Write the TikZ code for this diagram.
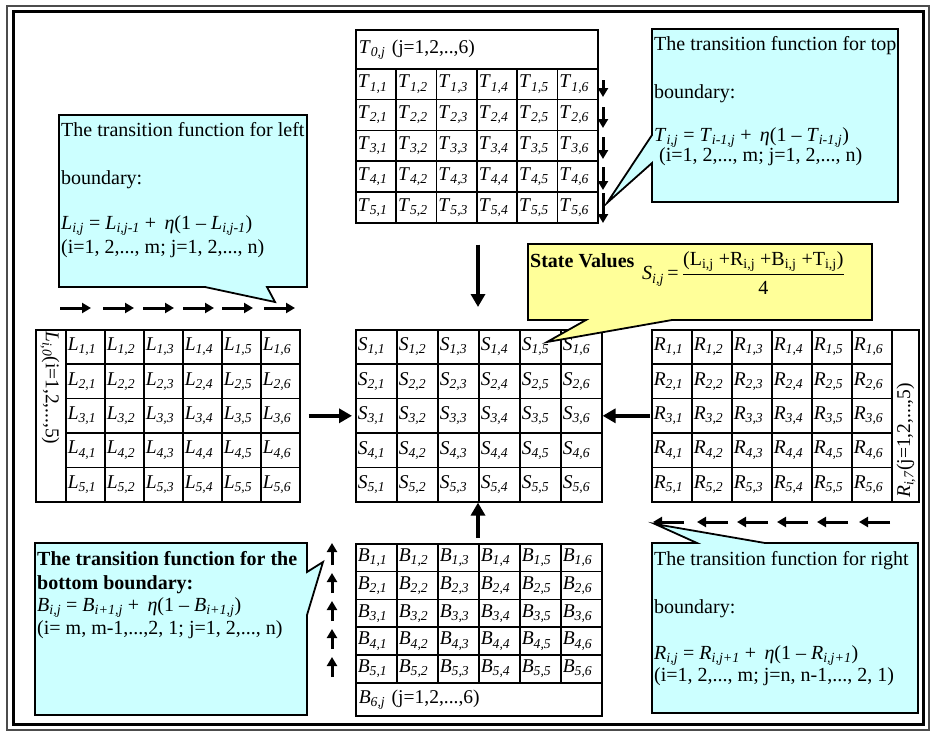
\documentclass[tikz,border=0pt]{standalone}
\usepackage{amsmath}
\usepackage{fontspec}
\setmainfont{Liberation Serif}
\usetikzlibrary{arrows.meta}
\definecolor{callcyan}{HTML}{CCFFFF}
\definecolor{callyellow}{HTML}{FFFF99}
\newcommand{\sv}[2]{\textit{#1}\textsubscript{\textit{#2}}}
\newcommand{\cellfont}{\fontsize{19.5}{22}\selectfont}
\newcommand{\callfont}{\fontsize{20}{23}\selectfont}
\begin{document}
\begin{tikzpicture}[x=1pt,y=-1pt,
  gridbox/.style={draw, line width=1.6pt, anchor=north west, inner xsep=2pt, inner ysep=0pt, align=left, font=\cellfont},
  tcell/.style={gridbox, text width=36.33pt, minimum height=30.8pt},
  scell/.style={gridbox, text width=37pt, minimum height=34.4pt},
  lcell/.style={gridbox, text width=35pt, minimum height=34.4pt},
  rcell/.style={gridbox, text width=36pt, minimum height=34.4pt},
  bcell/.style={gridbox, text width=37pt, minimum height=27.8pt},
  callout/.style={draw, line width=1.8pt, line join=miter, fill=callcyan},
  svcallout/.style={draw, line width=1.8pt, line join=miter, fill=callyellow},
  calltext/.style={anchor=base west, inner sep=0pt, font=\callfont},
  smallarrow/.style={line width=3pt, -{Triangle[width=10pt,length=9pt]}},
  bigarrow/.style={line width=4.5pt, -{Triangle[width=14pt,length=13pt]}}]
\useasboundingbox (0,0) rectangle (936,736);
% frame
\draw[line width=2pt, black!70] (7,6) rectangle (929,730);
\draw[line width=3pt] (13,11.5) rectangle (923,724.5);

% ---- top grid T
\node[gridbox, text width=236pt, inner xsep=3pt, minimum height=39pt] (T0) at (355,29) {\sv{T}{0,j} (j=1,2,..,6)};
\foreach \i in {1,...,5}
  \foreach \j in {1,...,6}
    \node[tcell] (T\i\j) at ({355+(\j-1)*40.33},{68+(\i-1)*30.8}) {\sv{T}{\i,\j}};
% small down arrows
\draw[smallarrow] (603,80) -- (603,97);
\draw[smallarrow] (603,107) -- (603,128);
\draw[smallarrow] (603,137) -- (603,159);
\draw[smallarrow] (603,167) -- (603,190);
\draw[smallarrow] (603,193) -- (603,223);

% ---- state grid S
\foreach \i in {1,...,5}
  \foreach \j in {1,...,6}
    \node[scell] (S\i\j) at ({355+(\j-1)*41},{329+(\i-1)*34.4}) {\sv{S}{\i,\j}};

% ---- left grid L
\node[gridbox, minimum width=30pt, minimum height=172pt, inner sep=0pt] (Lcol) at (35,329) {};
\node[rotate=-90, anchor=west, inner sep=0pt, font=\cellfont] (Llab) at (50,331) {\sv{L}{i,0}(i=1,2,...,5)};
\foreach \i in {1,...,5}
  \foreach \j in {1,...,6}
    \node[lcell] (L\i\j) at ({65+(\j-1)*39},{329+(\i-1)*34.4}) {\sv{L}{\i,\j}};
% left arrows
\foreach \a in {60,103,143,183,222,264}
  \draw[smallarrow] (\a,308) -- (\a+31,308);

% ---- right grid R
\foreach \i in {1,...,5}
  \foreach \j in {1,...,6}
    \node[rcell] (R\i\j) at ({651+(\j-1)*40},{329+(\i-1)*34.4}) {\sv{R}{\i,\j}};
\node[gridbox, minimum width=27pt, minimum height=172pt, inner sep=0pt] (Rcol) at (891,329) {};
\node[rotate=90, anchor=west, inner sep=0pt, font=\cellfont] (Rlab) at (906,498) {\sv{R}{i,7}(j=1,2,...,5)};
% right arrows
\foreach \a in {653,697,737,777,817,859}
  \draw[smallarrow] (\a+31,522) -- (\a,522);

% ---- bottom grid B
\foreach \i in {1,...,5}
  \foreach \j in {1,...,6}
    \node[bcell] (B\i\j) at ({355+(\j-1)*41},{543+(\i-1)*27.8}) {\sv{B}{\i,\j}};
\node[gridbox, text width=240pt, inner xsep=3pt, minimum height=33pt] (B6) at (355,682) {\sv{B}{6,j} (j=1,2,...,6)};
% up arrows
\draw[smallarrow] (332,565) -- (332,543);
\draw[smallarrow] (332,593) -- (332,573);
\draw[smallarrow] (332,621) -- (332,601);
\draw[smallarrow] (332,649) -- (332,629);
\draw[smallarrow] (332,677) -- (332,657);

% ---- big arrows into S
\draw[bigarrow, shorten <=21pt, shorten >=22pt] (S14.north west |- T54.south) -- (S14.north west);
\draw[bigarrow, shorten <=8pt, shorten >=3pt] (L36.east) -- (S31.west);
\draw[bigarrow, shorten <=1pt] (R31.west) -- (S36.east);
\draw[bigarrow, shorten <=5pt] (B14.north west) -- (S54.south west);

% ---- callouts
% left boundary
\draw[callout] (59,115) -- (307,115) -- (307,287) -- (267,287) -- (275,302) -- (205,287) -- (59,287) -- cycle;
\node[calltext] (lc1) at (61,136) {The transition function for left};
\node[calltext] (lc2) at (61,184) {boundary:};
\node[calltext] (lc3) at (61,229) {\sv{L}{i,j} = \sv{L}{i,j-1} +~\,\textit{η}(1 – \sv{L}{i,j-1})};
\node[calltext] (lc4) at (61,253) {(i=1, 2,..., m; j=1, 2,..., n)};

% top boundary
\draw[callout] (652,29) -- (898,29) -- (898,202) -- (652,202) -- (652,163) -- (607,203) -- (652,135) -- cycle;
\node[calltext] (tc1) at (654,50) {The transition function for top};
\node[calltext] (tc2) at (654,98) {boundary:};
\node[calltext] (tc3) at (654,141) {\sv{T}{i,j} = \sv{T}{i-1,j} +~\,\textit{η}(1 – \sv{T}{i-1,j})};
\node[calltext] (tc4) at (659,161) {(i=1, 2,..., m; j=1, 2,..., n)};

% state values
\draw[svcallout] (528,244) -- (872,244) -- (872,320) -- (672,320) -- (547,342) -- (586,320) -- (528,320) -- cycle;
\node[calltext] (sv1) at (530,267) {\textbf{State Values}};
\node[anchor=west, inner sep=0pt, font=\callfont] (sv2) at (642,273) {\sv{S}{i,j}\,=\,$\dfrac{\text{(L\textsubscript{i,j} +R\textsubscript{i,j} +B\textsubscript{i,j} +T\textsubscript{i,j})}}{\text{4}}$};

% bottom boundary
\draw[callout] (35,543) -- (307,543) -- (307,572) -- (323,562) -- (307,615) -- (307,715) -- (35,715) -- cycle;
\node[calltext] (bc1) at (37,565) {\textbf{The transition function for the}};
\node[calltext] (bc2) at (37,589) {\textbf{bottom boundary:}};
\node[calltext] (bc3) at (37,611) {\sv{B}{i,j} = \sv{B}{i+1,j} +~\,\textit{η}(1 – \sv{B}{i+1,j})};
\node[calltext] (bc4) at (37,634) {(i= m, m-1,...,2, 1; j=1, 2,..., n)};

% right boundary
\draw[callout] (652,543) -- (697,543) -- (655,524) -- (765,543) -- (918,543) -- (918,713) -- (652,713) -- cycle;
\node[calltext] (rc1) at (654,565) {The transition function for right};
\node[calltext] (rc2) at (654,613) {boundary:};
\node[calltext] (rc3) at (654,659) {\sv{R}{i,j} = \sv{R}{i,j+1} +~\,\textit{η}(1 – \sv{R}{i,j+1})};
\node[calltext] (rc4) at (654,681) {(i=1, 2,..., m; j=n, n-1,..., 2, 1)};
\end{tikzpicture}
\end{document}
